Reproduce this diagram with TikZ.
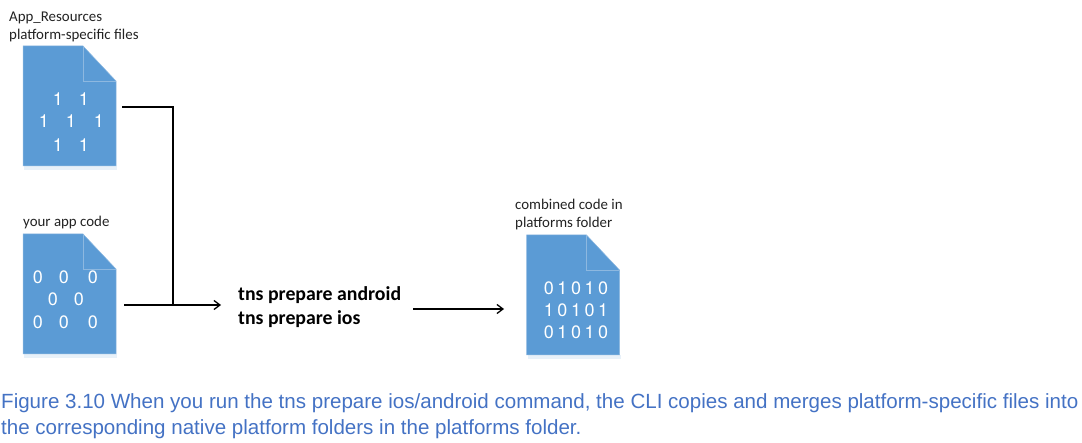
\documentclass[tikz,border=0pt]{standalone}
\usepackage{fontspec}
\setmainfont{Carlito}
\newfontfamily\arialf{Liberation Sans}
\newfontfamily\digitf{TeX Gyre Heros}
\usetikzlibrary{arrows.meta,calc}
\definecolor{docblue}{HTML}{5B9BD5}
\definecolor{docedge}{HTML}{8DB8E0}
\definecolor{capblue}{HTML}{4472C4}
\definecolor{labelgray}{HTML}{222222}
\tikzset{
  docbox/.style={minimum width=93pt,minimum height=120pt,inner sep=0pt,outer sep=0pt},
  doclabel/.style={anchor=west,inner sep=0pt,font=\fontsize{14.9}{18}\selectfont,text=labelgray,align=left},
  digit/.style={inner sep=0pt,text=white,font=\digitf\fontsize{18}{18}\selectfont},
  wire/.style={draw=black,line width=1.5pt},
  arrowwire/.style={wire,-{Straight Barb[length=6pt,width=9pt,line width=1.3pt]}},
  cmd/.style={anchor=west,inner sep=0pt,align=left,font=\bfseries\fontsize{19.8}{24}\selectfont},
  caption/.style={anchor=north west,inner sep=0pt,align=left,text=capblue,font=\arialf\fontsize{20.55}{26}\selectfont}
}
\newcommand{\docshape}[1]{%
  \fill[docblue!14] ($(#1.south west)+(1,0)$) rectangle ($(#1.south east)+(1,4)$);
  \fill[docblue,draw=docedge,line width=0.5pt] (#1.north west) -- ($(#1.north east)+(-33,0)$) -- ($(#1.north east)+(0,35)$) -- (#1.south east) -- (#1.south west) -- cycle;
  \draw[docedge,line width=0.8pt] ($(#1.north east)+(-33,0)$) -- ($(#1.north east)+(-33,35)$) -- ($(#1.north east)+(0,35)$);
}
\begin{document}
\begin{tikzpicture}[x=1pt,y=-1pt]
\useasboundingbox (0,0) rectangle (1082,443);
\node[docbox] (d1) at (69.5,106) {};
\node[docbox] (d2) at (69.5,294) {};
\node[docbox] (d3) at (573,295) {};
\docshape{d1}\docshape{d2}\docshape{d3}
\node[doclabel] (l1) at (9,27) {App\_Resources\\platform-specific files};
\node[doclabel] (l2) at (23,223) {your app code};
\node[doclabel] (l3) at (515,215) {combined code in\\platforms folder};
\foreach \n/\x/\y in {a/58/99,b/84/99,c/44/121,d/71/121,e/99/121,f/58/145,g/84/145}
  \node[digit] (one\n) at (\x,\y) {1};
\foreach \n/\x/\y in {a/38/277,b/64/277,c/93/277,d/53/299,e/79/299,f/38/322,g/64/322,h/93/322}
  \node[digit] (zero\n) at (\x,\y) {0};
\foreach \n/\t/\y in {a/01010/288,b/10101/310,c/01010/332}
  \node[digit,font=\digitf\fontsize{18}{18}\selectfont\addfontfeatures{LetterSpace=20}] (bits\n) at (576,\y) {\t};
\node[cmd] (cmd) at (238,307) {tns prepare android\\tns prepare ios};
\coordinate (s1) at (122,107);
\coordinate (s2) at (124,305);
\coordinate (j) at (173,305);
\coordinate (e2) at (221,305);
\coordinate (s3) at (413,309);
\coordinate (e3) at (504,309);
\draw[wire] (s1) -| (j);
\draw[arrowwire] (s2) -- (e2);
\draw[arrowwire] (s3) -- (e3);
\node[caption] (cap) at (1,393) {Figure 3.10 When you run the tns prepare ios/android command, the CLI copies and merges platform-specific files into\\the corresponding native platform folders in the platforms folder.};
\end{tikzpicture}
\end{document}
